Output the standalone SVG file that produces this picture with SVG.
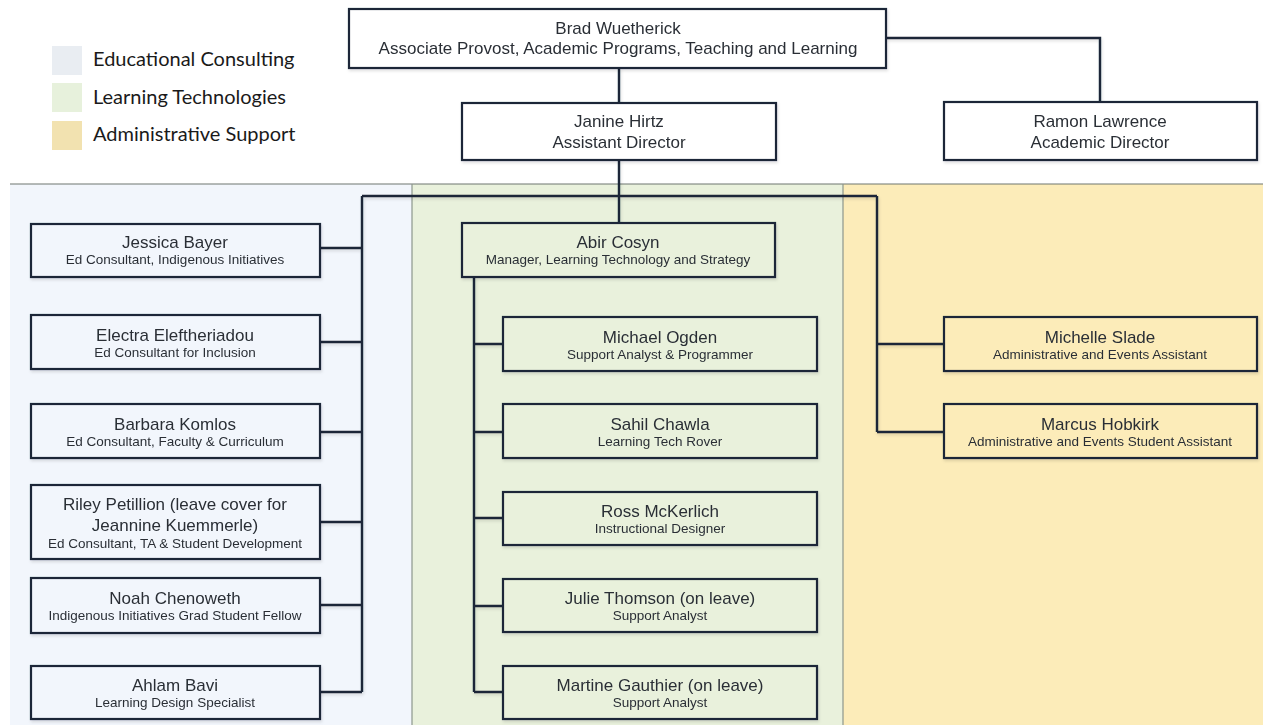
<svg xmlns="http://www.w3.org/2000/svg" width="1263" height="725" viewBox="0 0 1263 725">
  <style>
    .box { stroke: #1b2637; stroke-width: 2.2; }
    .conn { fill: none; stroke: #1b2637; stroke-width: 2.4; stroke-linejoin: miter; }
    .name { font-family: "Liberation Sans", Arial, sans-serif; font-size: 17px; fill: #2a2f36; text-anchor: middle; }
    .role { font-family: "Liberation Sans", Arial, sans-serif; font-size: 13.5px; fill: #2a2f36; text-anchor: middle; }
    .top { font-family: "Liberation Sans", Arial, sans-serif; font-size: 17px; fill: #2a2f36; text-anchor: middle; }
    .legend { font-family: Lato, "Open Sans", sans-serif; font-size: 20px; fill: #1a1a1a; }
    .divider { stroke: #8c978c; stroke-width: 1.2; }
  </style>
  <defs>
    <filter id="shadow" x="-5%" y="-10%" width="115%" height="130%">
      <feDropShadow dx="1" dy="2" stdDeviation="1.5" flood-color="#000" flood-opacity="0.12"/>
    </filter>
  </defs>

  <!-- page background and department bands -->
  <rect x="0" y="0" width="1263" height="725" fill="#ffffff"/>
  <rect x="10" y="184" width="402" height="541" fill="#f2f6fc"/>
  <rect x="412" y="184" width="431" height="541" fill="#e9f1dc"/>
  <rect x="843" y="184" width="420" height="541" fill="#fcecb9"/>
  <line class="divider" x1="10" y1="184" x2="1263" y2="184" style="stroke:#6f7670"/>
  <line class="divider" x1="412" y1="184" x2="412" y2="725"/>
  <line class="divider" x1="843" y1="184" x2="843" y2="725"/>

  <!-- legend -->
  <g id="legend">
    <rect x="52" y="46" width="30" height="29" fill="#e9edf2"/>
    <rect x="52" y="83" width="30" height="29" fill="#e7f1dc"/>
    <rect x="52" y="121" width="30" height="29" fill="#f2e2b0"/>
    <text class="legend" x="93" y="66">Educational Consulting</text>
    <text class="legend" x="93" y="104">Learning Technologies</text>
    <text class="legend" x="93" y="141">Administrative Support</text>
  </g>

  <!-- reporting lines -->
  <g id="connectors" filter="url(#shadow)">
    <path class="conn" d="M886 38 H1100 V102"/>
    <path class="conn" d="M619 68 V103"/>
    <path class="conn" d="M619 160 V223"/>
    <path class="conn" d="M362 196 H877"/>
    <path class="conn" d="M362 196 V692"/>
    <path class="conn" d="M320 248 H362 M320 342 H362 M320 432 H362 M320 522 H362 M320 605 H362 M320 692 H362"/>
    <path class="conn" d="M474 277 V692"/>
    <path class="conn" d="M474 344 H503 M474 432 H503 M474 518 H503 M474 606 H503 M474 692 H503"/>
    <path class="conn" d="M877 196 V432"/>
    <path class="conn" d="M877 344 H944 M877 432 H944"/>
  </g>

  <!-- leadership -->
  <g id="brad" filter="url(#shadow)">
    <rect class="box" x="349" y="9" width="537" height="59" fill="#ffffff"/>
    <text class="top" x="618" y="34">Brad Wuetherick</text>
    <text class="top" x="618" y="54">Associate Provost, Academic Programs, Teaching and Learning</text>
  </g>
  <g id="janine" filter="url(#shadow)">
    <rect class="box" x="462" y="103" width="314" height="57" fill="#ffffff"/>
    <text class="top" x="619" y="127">Janine Hirtz</text>
    <text class="top" x="619" y="148">Assistant Director</text>
  </g>
  <g id="ramon" filter="url(#shadow)">
    <rect class="box" x="944" y="102" width="313" height="58" fill="#ffffff"/>
    <text class="top" x="1100" y="127">Ramon Lawrence</text>
    <text class="top" x="1100" y="148">Academic Director</text>
  </g>

  <!-- Educational Consulting -->
  <g id="jessica" filter="url(#shadow)">
    <rect class="box" x="31" y="224" width="289" height="53" fill="#f2f6fc"/>
    <text class="name" x="175" y="248">Jessica Bayer</text>
    <text class="role" x="175" y="264">Ed Consultant, Indigenous Initiatives</text>
  </g>
  <g id="electra" filter="url(#shadow)">
    <rect class="box" x="31" y="315" width="289" height="54" fill="#f2f6fc"/>
    <text class="name" x="175" y="341">Electra Eleftheriadou</text>
    <text class="role" x="175" y="357">Ed Consultant for Inclusion</text>
  </g>
  <g id="barbara" filter="url(#shadow)">
    <rect class="box" x="31" y="404" width="289" height="54" fill="#f2f6fc"/>
    <text class="name" x="175" y="430">Barbara Komlos</text>
    <text class="role" x="175" y="446">Ed Consultant, Faculty &amp; Curriculum</text>
  </g>
  <g id="riley" filter="url(#shadow)">
    <rect class="box" x="31" y="485" width="289" height="74" fill="#f2f6fc"/>
    <text class="name" x="175" y="510">Riley Petillion (leave cover for</text>
    <text class="name" x="175" y="531">Jeannine Kuemmerle)</text>
    <text class="role" x="175" y="548">Ed Consultant, TA &amp; Student Development</text>
  </g>
  <g id="noah" filter="url(#shadow)">
    <rect class="box" x="31" y="578" width="289" height="55" fill="#f2f6fc"/>
    <text class="name" x="175" y="604">Noah Chenoweth</text>
    <text class="role" x="175" y="620">Indigenous Initiatives Grad Student Fellow</text>
  </g>
  <g id="ahlam" filter="url(#shadow)">
    <rect class="box" x="31" y="666" width="289" height="53" fill="#f2f6fc"/>
    <text class="name" x="175" y="691">Ahlam Bavi</text>
    <text class="role" x="175" y="707">Learning Design Specialist</text>
  </g>

  <!-- Learning Technologies -->
  <g id="abir" filter="url(#shadow)">
    <rect class="box" x="462" y="223" width="313" height="54" fill="#e9f1dc"/>
    <text class="name" x="618" y="248">Abir Cosyn</text>
    <text class="role" x="618" y="264">Manager, Learning Technology and Strategy</text>
  </g>
  <g id="michael" filter="url(#shadow)">
    <rect class="box" x="503" y="317" width="314" height="54" fill="#e9f1dc"/>
    <text class="name" x="660" y="343">Michael Ogden</text>
    <text class="role" x="660" y="359">Support Analyst &amp; Programmer</text>
  </g>
  <g id="sahil" filter="url(#shadow)">
    <rect class="box" x="503" y="404" width="314" height="54" fill="#e9f1dc"/>
    <text class="name" x="660" y="430">Sahil Chawla</text>
    <text class="role" x="660" y="446">Learning Tech Rover</text>
  </g>
  <g id="ross" filter="url(#shadow)">
    <rect class="box" x="503" y="492" width="314" height="53" fill="#e9f1dc"/>
    <text class="name" x="660" y="517">Ross McKerlich</text>
    <text class="role" x="660" y="533">Instructional Designer</text>
  </g>
  <g id="julie" filter="url(#shadow)">
    <rect class="box" x="503" y="579" width="314" height="53" fill="#e9f1dc"/>
    <text class="name" x="660" y="604">Julie Thomson (on leave)</text>
    <text class="role" x="660" y="620">Support Analyst</text>
  </g>
  <g id="martine" filter="url(#shadow)">
    <rect class="box" x="503" y="666" width="314" height="53" fill="#e9f1dc"/>
    <text class="name" x="660" y="691">Martine Gauthier (on leave)</text>
    <text class="role" x="660" y="707">Support Analyst</text>
  </g>

  <!-- Administrative Support -->
  <g id="michelle" filter="url(#shadow)">
    <rect class="box" x="944" y="317" width="313" height="54" fill="#fcecb9"/>
    <text class="name" x="1100" y="343">Michelle Slade</text>
    <text class="role" x="1100" y="359">Administrative and Events Assistant</text>
  </g>
  <g id="marcus" filter="url(#shadow)">
    <rect class="box" x="944" y="404" width="313" height="54" fill="#fcecb9"/>
    <text class="name" x="1100" y="430">Marcus Hobkirk</text>
    <text class="role" x="1100" y="446">Administrative and Events Student Assistant</text>
  </g>
</svg>
